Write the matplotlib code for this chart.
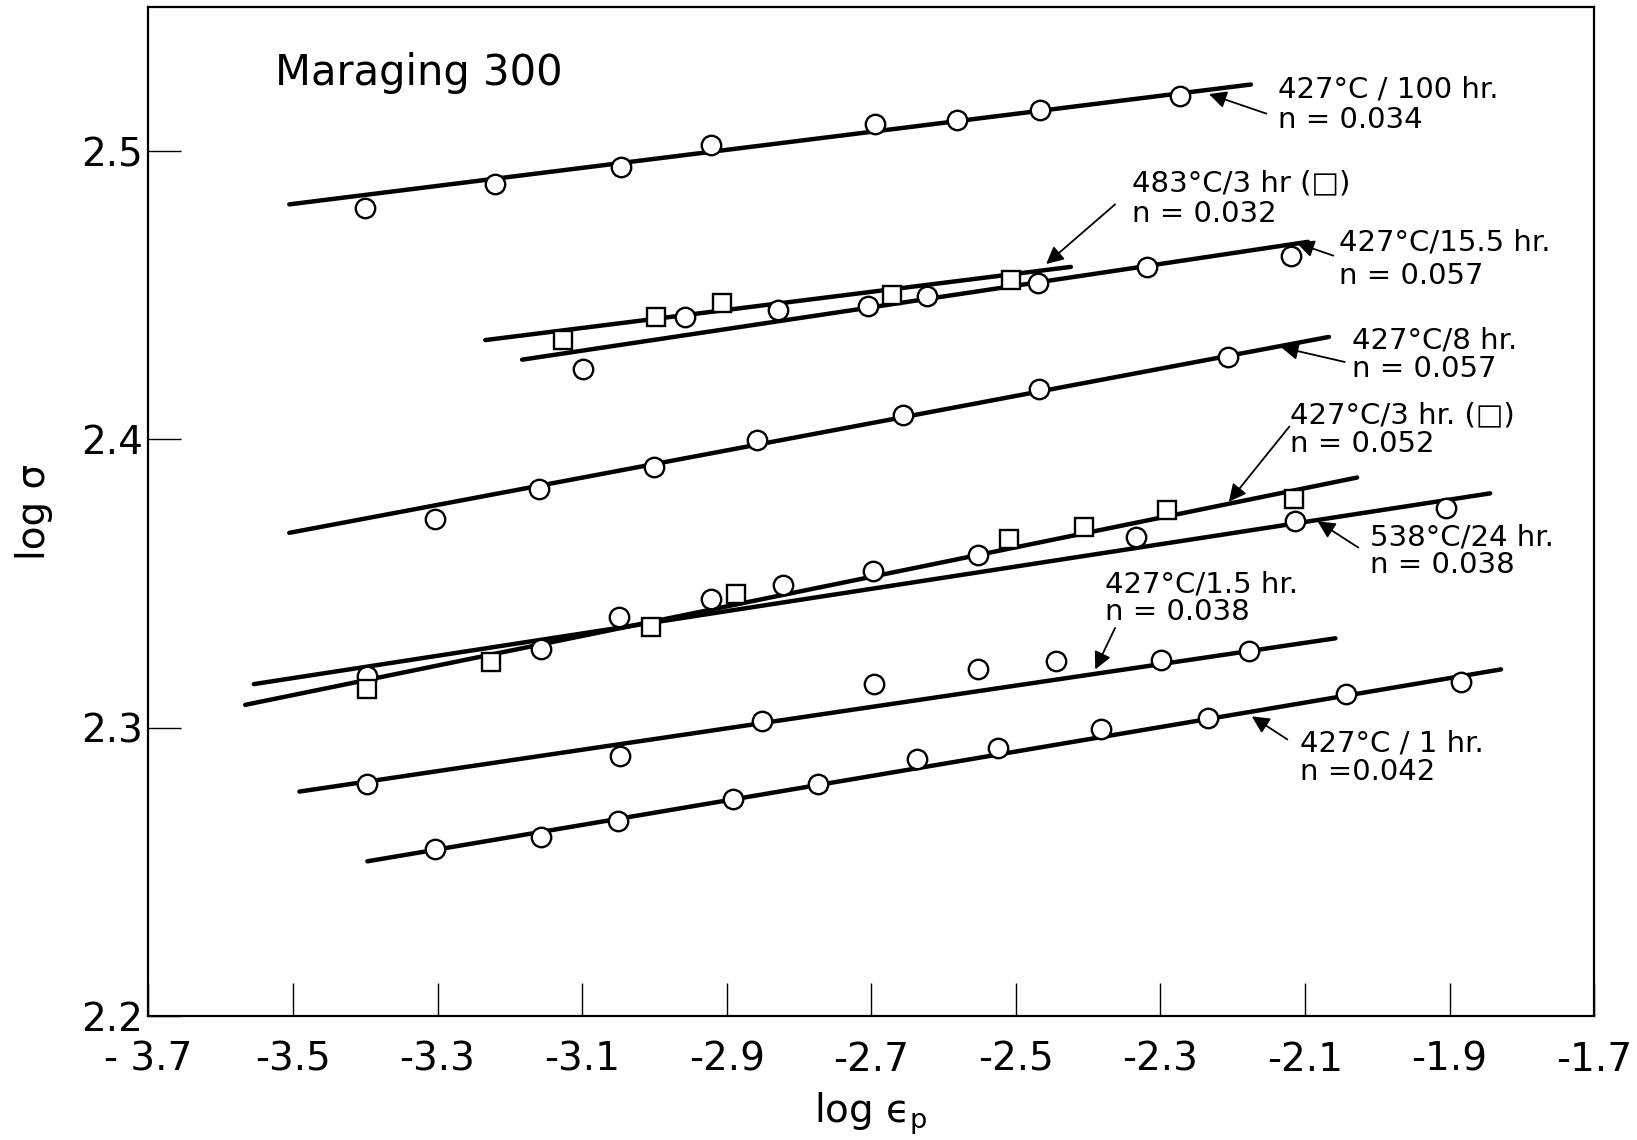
import matplotlib
matplotlib.use("Agg")
import matplotlib.pyplot as plt

plt.rcParams['font.family'] = ['DejaVu Sans']

# 427°C / 100 hr (circles)
x_100hr = [-3.400, -3.221, -3.046, -2.922, -2.695, -2.582, -2.467, -2.273]
y_100hr = [2.4805, 2.4885, 2.4946, 2.5022, 2.5094, 2.5109, 2.5145, 2.5192]
fit_x_100hr = [-3.505, -2.175]
fit_y_100hr = [2.4816, 2.5232]

# 483°C / 3 hr (squares)
x_483_3hr = [-3.127, -2.998, -2.906, -2.672, -2.507]
y_483_3hr = [2.4345, 2.4425, 2.4472, 2.4501, 2.4555]
fit_x_483_3hr = [-3.234, -2.424]
fit_y_483_3hr = [2.4345, 2.4599]

# 427°C / 15.5 hr (circles)
x_15hr = [-3.099, -2.958, -2.829, -2.705, -2.623, -2.470, -2.318, -2.119]
y_15hr = [2.4244, 2.4425, 2.4450, 2.4465, 2.4497, 2.4544, 2.4599, 2.4638]
fit_x_15hr = [-3.183, -2.096]
fit_y_15hr = [2.4277, 2.4686]

# 427°C / 8 hr (circles)
x_8hr = [-3.304, -3.160, -3.000, -2.858, -2.656, -2.468, -2.207]
y_8hr = [2.3723, 2.3828, 2.3904, 2.3998, 2.4085, 2.4175, 2.4287]
fit_x_8hr = [-3.505, -2.067]
fit_y_8hr = [2.3676, 2.4356]

# 427°C / 3 hr (squares)
x_3hr = [-3.398, -3.226, -3.005, -2.887, -2.510, -2.406, -2.291, -2.116]
y_3hr = [2.3133, 2.3227, 2.3350, 2.3462, 2.3654, 2.3697, 2.3755, 2.3795]
fit_x_3hr = [-3.566, -2.028]
fit_y_3hr = [2.3079, 2.3868]

# 538°C / 24 hr (circles)
x_538 = [-3.397, -3.157, -3.049, -2.922, -2.822, -2.698, -2.552, -2.334, -2.114, -1.905]
y_538 = [2.3180, 2.3274, 2.3383, 2.3448, 2.3495, 2.3542, 2.3600, 2.3661, 2.3716, 2.3763]
fit_x_538 = [-3.554, -1.844]
fit_y_538 = [2.3151, 2.3813]

# 427°C / 1.5 hr (circles)
x_1_5hr = [-3.398, -3.047, -2.851, -2.696, -2.552, -2.444, -2.299, -2.177]
y_1_5hr = [2.2803, 2.2901, 2.3024, 2.3151, 2.3205, 2.3231, 2.3234, 2.3267]
fit_x_1_5hr = [-3.491, -2.058]
fit_y_1_5hr = [2.2778, 2.3310]

# 427°C / 1 hr (circles)
x_1hr = [-3.304, -3.157, -3.050, -2.891, -2.774, -2.637, -2.525, -2.382, -2.234, -2.044, -1.885]
y_1hr = [2.2579, 2.2619, 2.2677, 2.2753, 2.2803, 2.2890, 2.2930, 2.2995, 2.3035, 2.3118, 2.3158]
fit_x_1hr = [-3.397, -1.829]
fit_y_1hr = [2.2536, 2.3202]

x_ticks = [-3.7, -3.5, -3.3, -3.1, -2.9, -2.7, -2.5, -2.3, -2.1, -1.9, -1.7]
x_tick_labels = ['- 3.7', '-3.5', '-3.3', '-3.1', '-2.9', '-2.7', '-2.5', '-2.3', '-2.1', '-1.9', '-1.7']
y_ticks = [2.2, 2.3, 2.4, 2.5]
y_tick_labels = ['2.2', '2.3', '2.4', '2.5']

fig = plt.figure(figsize=(16.37, 11.4), dpi=100)
ax = fig.add_axes([0.0906, 0.109, 0.8833, 0.8846])

circle_series = [(x_100hr, y_100hr), (x_15hr, y_15hr), (x_8hr, y_8hr),
                 (x_538, y_538), (x_1_5hr, y_1_5hr), (x_1hr, y_1hr)]
square_series = [(x_483_3hr, y_483_3hr), (x_3hr, y_3hr)]
fits = [(fit_x_100hr, fit_y_100hr), (fit_x_483_3hr, fit_y_483_3hr),
        (fit_x_15hr, fit_y_15hr), (fit_x_8hr, fit_y_8hr), (fit_x_3hr, fit_y_3hr),
        (fit_x_538, fit_y_538), (fit_x_1_5hr, fit_y_1_5hr), (fit_x_1hr, fit_y_1hr)]

# fitted straight lines
for fx, fy in fits:
    ax.plot(fx, fy, color='black', lw=3.2, solid_capstyle='round', zorder=2)

# data points, open markers on top of the lines
for xs, ys in circle_series:
    ax.plot(xs, ys, 'o', ms=14, mfc='white', mec='black', mew=1.7, zorder=3)
for xs, ys in square_series:
    ax.plot(xs, ys, 's', ms=13, mfc='white', mec='black', mew=1.7, zorder=3)

# labels: (x, y line 1, y line 2, line 1, line 2, arrow tail, arrow head)
notes = [
    (-2.1375, 2.5214, 2.5108, '427°C / 100 hr.', 'n = 0.034', (-2.1535, 2.5131), (-2.2329, 2.5199)),
    (-2.340, 2.4888, 2.4783, '483°C/3 hr (□)', 'n = 0.032', (-2.3628, 2.4816), (-2.4581, 2.4609)),
    (-2.0524, 2.4684, 2.4566, '427°C/15.5 hr.', 'n = 0.057', (-2.061, 2.4638), (-2.1116, 2.4682)),
    (-2.035, 2.4342, 2.4246, '427°C/8 hr.', 'n = 0.057', (-2.0451, 2.4269), (-2.1332, 2.4320)),
    (-2.1202, 2.4083, 2.3985, '427°C/3 hr. (□)', 'n = 0.052', (-2.1217, 2.4045), (-2.2054, 2.3784)),
    (-2.0105, 2.3661, 2.3564, '538°C/24 hr.', 'n = 0.038', (-2.0264, 2.3625), (-2.0827, 2.3716)),
    (-2.3773, 2.3495, 2.3401, '427°C/1.5 hr.', 'n = 0.038', (-2.3628, 2.3346), (-2.3903, 2.3202)),
    (-2.1072, 2.2945, 2.2847, '427°C / 1 hr.', 'n =0.042', (-2.1245, 2.2959), (-2.1737, 2.3039)),
]
for tx, ty1, ty2, line1, line2, tail, head in notes:
    ax.text(tx, ty1, line1, fontsize=21, va='center', ha='left')
    ax.text(tx, ty2, line2, fontsize=21, va='center', ha='left')
    ax.annotate('', xy=head, xytext=tail,
                arrowprops=dict(arrowstyle='-|>', color='black', lw=1.3,
                                mutation_scale=26, shrinkA=0, shrinkB=0))

ax.text(-3.5253, 2.5272, 'Maraging 300', fontsize=30, va='center', ha='left')

ax.set_xlim(-3.7, -1.7)
ax.set_ylim(2.2, 2.55)
ax.set_xticks(x_ticks)
ax.set_xticklabels(x_tick_labels)
ax.set_yticks(y_ticks)
ax.set_yticklabels(y_tick_labels)
ax.tick_params(axis='both', direction='in', length=24, width=1.0, labelsize=28)
ax.tick_params(axis='x', pad=18)
ax.tick_params(axis='y', pad=4)
for side in ax.spines.values():
    side.set_linewidth(1.6)

ax.set_xlabel('log ϵ$_{\\mathregular{p}}$', fontsize=28, labelpad=8)
ax.set_ylabel('log σ', fontsize=28, labelpad=20)

plt.savefig('out.png', dpi=100)
